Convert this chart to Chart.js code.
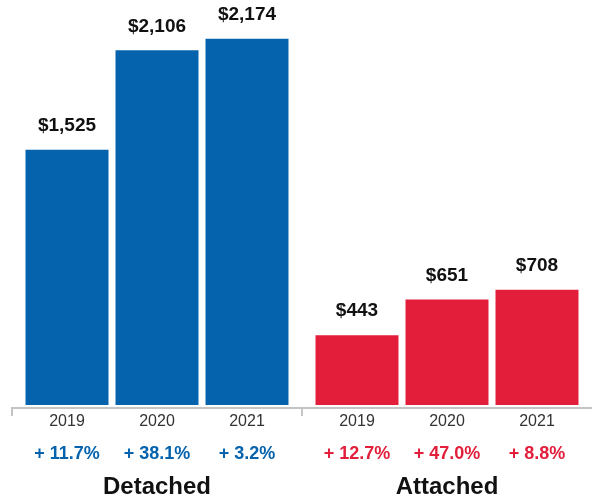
<!DOCTYPE html>
<html>
<head>
<meta charset="utf-8">
<script src="https://cdn.jsdelivr.net/npm/chart.js@4"></script>
<style>
  html, body { margin: 0; padding: 0; background: #fff; }
  canvas { display: block; }
</style>
</head>
<body>
<canvas id="myChart" width="592" height="500"></canvas>
<script>
var canvas = document.getElementById("myChart");

const groups = ["Detached", "Attached"];
const years = ["2019", "2020", "2021"];
const detached = [1525, 2106, 2174];
const attached = [443, 651, 708];
const detachedChange = ["+ 11.7%", "+ 38.1%", "+ 3.2%"];
const attachedChange = ["+ 12.7%", "+ 47.0%", "+ 8.8%"];

const BLUE = "#0563ae";
const RED = "#e31e3b";
const FONT = "'Liberation Sans', Arial, Helvetica, sans-serif";

// dollar labels over bars, year + change rows under the axis
const barLabels = {
  id: "barLabels",
  afterDatasetsDraw(chart) {
    const ctx = chart.ctx;
    const changes = [detachedChange, attachedChange];
    ctx.save();
    ctx.textAlign = "center";
    ctx.textBaseline = "middle";
    chart.data.datasets.forEach((ds, i) => {
      const meta = chart.getDatasetMeta(i);
      meta.data.forEach((bar, g) => {
        ctx.fillStyle = "#111";
        ctx.font = "bold 19px " + FONT;
        ctx.fillText("$" + ds.data[g].toLocaleString("en-US"), bar.x, bar.y - 24);

        ctx.fillStyle = "#333";
        ctx.font = "16px " + FONT;
        ctx.fillText(ds.label, bar.x, 422);

        ctx.fillStyle = g === 0 ? BLUE : RED;
        ctx.font = "bold 18px " + FONT;
        ctx.fillText(changes[g][i], bar.x, 454);
      });
    });
    ctx.restore();
  },
};

new Chart(canvas, {
  type: "bar",
  data: {
    labels: groups,
    datasets: years.map((y, i) => ({
      label: y,
      data: [detached[i], attached[i]],
      backgroundColor: [BLUE, RED],
      borderWidth: 0,
      categoryPercentage: 0.931,
      barPercentage: 0.922,
      clip: { left: false, right: false, top: false, bottom: -3 },
    })),
  },
  options: {
    responsive: false,
    animation: false,
    layout: { padding: { left: 12, right: 0, top: 0, bottom: 0 } },
    plugins: {
      legend: { display: false },
      tooltip: { enabled: false },
    },
    scales: {
      y: {
        display: false,
        min: 17.5,
        max: 2400,
      },
      x: {
        afterFit(scale) {
          scale.height = 92;
        },
        border: { display: true, color: "#c4c4c4", width: 2 },
        grid: {
          offset: true,
          drawOnChartArea: false,
          tickLength: 8,
          lineWidth: 2,
          color: (c) => (c.type === "tick" ? "#c4c4c4" : "transparent"),
        },
        ticks: {
          color: "#111",
          padding: 57,
          font: { family: FONT, size: 24, weight: "bold" },
        },
      },
    },
  },
  plugins: [barLabels],
});
</script>
</body>
</html>
